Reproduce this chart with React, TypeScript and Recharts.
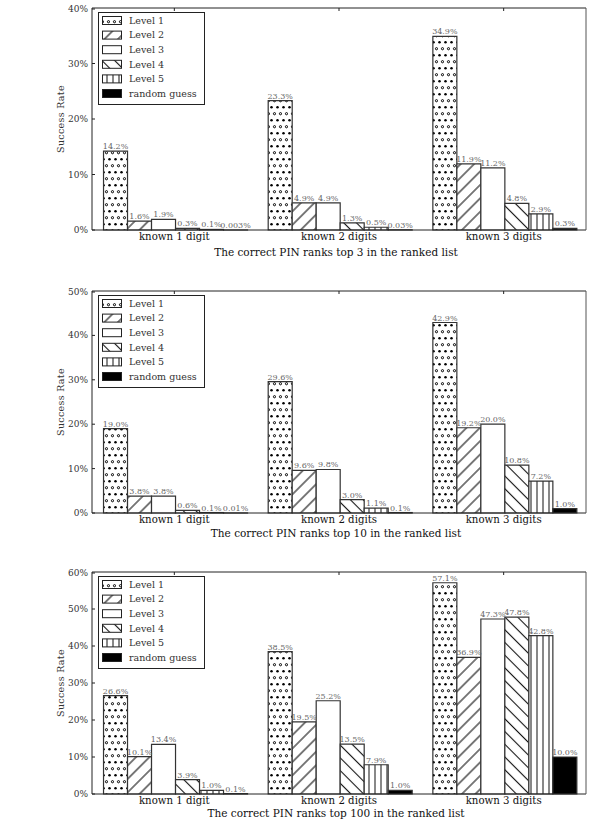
import { BarChart, Bar, XAxis, YAxis, Legend, LabelList } from "recharts";

const categories = ["known 1 digit", "known 2 digits", "known 3 digits"];
const seriesNames = ["Level 1", "Level 2", "Level 3", "Level 4", "Level 5", "random guess"];

// rows follow seriesNames, columns follow categories
const top3Rates = [
  [14.2, 23.3, 34.9],
  [1.6, 4.9, 11.9],
  [1.9, 4.9, 11.2],
  [0.3, 1.3, 4.8],
  [0.1, 0.5, 2.9],
  [0.003, 0.03, 0.3],
];
const top10Rates = [
  [19.0, 29.6, 42.9],
  [3.8, 9.6, 19.2],
  [3.8, 9.8, 20.0],
  [0.6, 3.0, 10.8],
  [0.1, 1.1, 7.2],
  [0.01, 0.1, 1.0],
];
const top100Rates = [
  [26.6, 38.5, 57.1],
  [10.1, 19.5, 36.9],
  [13.4, 25.2, 47.3],
  [3.9, 13.5, 47.8],
  [1.0, 7.9, 42.8],
  [0.1, 1.0, 10.0],
];

const top3Ticks = [0, 10, 20, 30, 40];
const top10Ticks = [0, 10, 20, 30, 40, 50];
const top100Ticks = [0, 10, 20, 30, 40, 50, 60];

const FONT = "DejaVu Serif";
const INK = "#222";
const fills = ["dots", "fwd", "plain", "back", "vert", "solid"];

function Patterns({ id }: { id: string }) {
  return (
    <defs>
      <pattern id={`${id}-dots`} patternUnits="userSpaceOnUse" width={6} height={13}>
        <rect width={6} height={13} fill="#fff" />
        <circle cx={1.5} cy={3.2} r={1.25} fill="#000" />
        <circle cx={4.5} cy={9.7} r={1.1} fill="#fff" stroke="#000" strokeWidth={1} />
      </pattern>
      <pattern id={`${id}-fwd`} patternUnits="userSpaceOnUse" width={9.5} height={9.5} patternTransform="rotate(45)">
        <rect width={9.5} height={9.5} fill="#fff" />
        <line x1={4.75} y1={0} x2={4.75} y2={9.5} stroke="#111" strokeWidth={1.1} />
      </pattern>
      <pattern id={`${id}-back`} patternUnits="userSpaceOnUse" width={9} height={9} patternTransform="rotate(-45)">
        <rect width={9} height={9} fill="#fff" />
        <line x1={4.5} y1={0} x2={4.5} y2={9} stroke="#111" strokeWidth={1.1} />
      </pattern>
      <pattern id={`${id}-vert`} patternUnits="userSpaceOnUse" width={6} height={6}>
        <rect width={6} height={6} fill="#fff" />
        <line x1={3} y1={0} x2={3} y2={6} stroke="#111" strokeWidth={1} />
      </pattern>
    </defs>
  );
}

function fillFor(id: string, i: number) {
  if (fills[i] === "plain") return "#fff";
  if (fills[i] === "solid") return "#000";
  return `url(#${id}-${fills[i]})`;
}

function fmt(v: any) {
  const n = Number(v);
  return (n >= 0.1 ? n.toFixed(1) : String(n)) + "%";
}

function PanelLegend({ id }: { id: string }) {
  const lid = `${id}-lg`;
  return (
    <svg width={107} height={93} style={{ display: "block" }}>
      <Patterns id={lid} />
      <rect x={0.5} y={0.5} width={106} height={92} fill="#fff" stroke={INK} />
      {seriesNames.map((n, i) => {
        const cy = 8.5 + i * 14.6;
        return (
          <g key={n}>
            <rect x={4.5} y={cy - 4} width={19} height={8} fill={fillFor(lid, i)} stroke={INK} />
            <text x={31} y={cy + 3.3} fontSize={9.5} fontFamily={FONT} fill="#333">
              {n}
            </text>
          </g>
        );
      })}
    </svg>
  );
}

function YTick(props: any) {
  const { x, y, payload } = props;
  return (
    <g>
      <text x={x} y={y} dy={3} textAnchor="end" fontSize={9} fontFamily={FONT} fill="#333">
        {payload.value}%
      </text>
      <line x1={x + 4} x2={x + 7} y1={y} y2={y} stroke={INK} />
    </g>
  );
}

function TopTick(props: any) {
  const { x, y } = props;
  return <line x1={x} x2={x} y1={y} y2={y + 3} stroke={INK} />;
}

function Panel({ id, rates, ticks, title, titleGap, top }: { id: string; rates: number[][]; ticks: number[]; title: string; titleGap: number; top: number }) {
  const data = categories.map((name, c) => {
    const row: any = { name };
    rates.forEach((r, s) => (row[`s${s}`] = r[c]));
    return row;
  });
  return (
    <div style={{ position: "absolute", left: 0, top }}>
      <BarChart width={594} height={260} data={data} margin={{ top: 7, right: 7, bottom: 0, left: 0 }} barCategoryGap="7%" barGap={0}>
        <Patterns id={id} />
        <XAxis
          dataKey="name"
          height={30}
          axisLine={{ stroke: INK }}
          tickLine={false}
          tickSize={0}
          tickMargin={3}
          tick={{ fontSize: 10.2, fontFamily: FONT, fill: "#111" }}
          label={(p: any) => (
            <text x={p.viewBox.x + p.viewBox.width / 2 - 3} y={p.viewBox.y + titleGap} textAnchor="middle" fontSize={10.5} fontFamily={FONT} fill="#111">
              {title}
            </text>
          )}
        />
        <XAxis xAxisId="top" orientation="top" dataKey="name" height={1} axisLine={{ stroke: INK }} tickLine={false} tickSize={0} tickMargin={0} tick={<TopTick />} />
        <YAxis
          width={92}
          domain={[0, ticks[ticks.length - 1]]}
          ticks={ticks}
          axisLine={{ stroke: INK }}
          tickLine={false}
          tickSize={0}
          tickMargin={4}
          tick={<YTick />}
          label={(p: any) => (
            <text
              x={64}
              y={p.viewBox.y + p.viewBox.height / 2}
              transform={`rotate(-90 64 ${p.viewBox.y + p.viewBox.height / 2})`}
              textAnchor="middle"
              fontSize={9.5}
              fontFamily={FONT}
              fill="#333"
              letterSpacing={0.3}
            >
              Success Rate
            </text>
          )}
        />
        <YAxis yAxisId="right" orientation="right" width={1} tick={false} tickLine={false} axisLine={{ stroke: "#555" }} />
        <Legend
          layout="vertical"
          align="center"
          verticalAlign="middle"
          wrapperStyle={{ left: 98, top: 12, width: 107, height: 93 }}
          content={() => <PanelLegend id={id} />}
        />
        {seriesNames.map((n, i) => (
          <Bar key={n} dataKey={`s${i}`} name={n} fill={fillFor(id, i)} stroke="#333" strokeWidth={1.2} isAnimationActive={false}>
            <LabelList dataKey={`s${i}`} position="top" offset={2} formatter={fmt} fontSize={8} fontFamily={FONT} fill="#666" />
          </Bar>
        ))}
      </BarChart>
    </div>
  );
}

export default function App() {
  return (
    <div style={{ position: "absolute", left: 0, top: 0, width: 594, height: 825, background: "#fff" }}>
      <Panel id="p3" rates={top3Rates} ticks={top3Ticks} title="The correct PIN ranks top 3 in the ranked list" titleGap={26} top={0} />
      <Panel id="p10" rates={top10Rates} ticks={top10Ticks} title="The correct PIN ranks top 10 in the ranked list" titleGap={24} top={283} />
      <Panel id="p100" rates={top100Rates} ticks={top100Ticks} title="The correct PIN ranks top 100 in the ranked list" titleGap={23} top={564} />
    </div>
  );
}
